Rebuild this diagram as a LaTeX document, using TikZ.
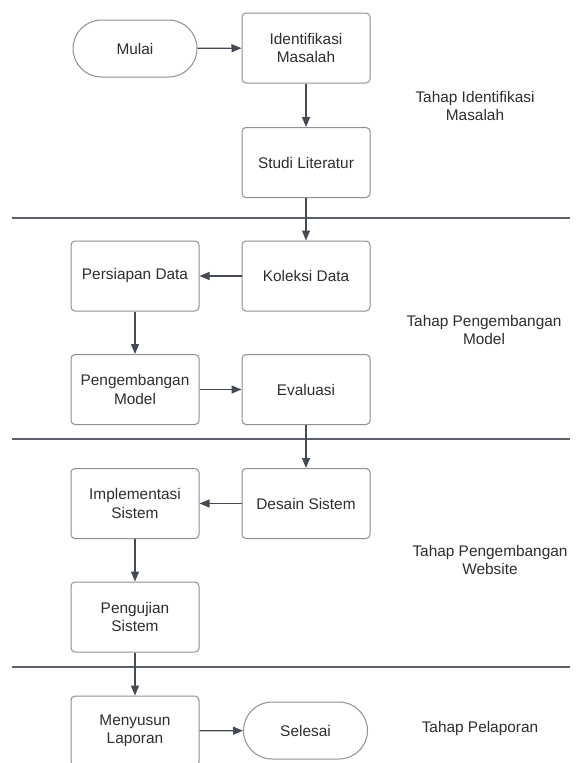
\documentclass[tikz,border=0pt]{standalone}
\usepackage{fontspec}
\setmainfont{Liberation Sans}
\usetikzlibrary{arrows.meta,shapes.misc}
\definecolor{boxline}{HTML}{8E9096}
\definecolor{arrowc}{HTML}{434A54}
\definecolor{sepline}{HTML}{5B6068}
\definecolor{txt}{HTML}{2E2E2E}
\tikzset{
  procbox/.style={draw=boxline, line width=1pt, rounded corners=4pt, minimum width=128pt, minimum height=70pt, align=center, text=txt, inner sep=2pt, font=\fontsize{15.4}{18.5}\selectfont},
  termbox/.style={draw=boxline, line width=1pt, rounded rectangle, minimum width=128pt, minimum height=57pt, align=center, text=txt, inner sep=2pt, font=\fontsize{15.4}{18.5}\selectfont},
  flow/.style={draw=arrowc, line width=1.2pt, -{Triangle[length=10pt,width=8pt]}},
  sep/.style={draw=sepline, line width=1.8pt},
  phase/.style={align=center, text=txt, font=\fontsize{15.4}{18.5}\selectfont},
}
\begin{document}
\begin{tikzpicture}[x=1pt,y=-1pt]
\clip (0,0) rectangle (576,763);
\fill[white] (0,0) rectangle (576,763);
% separators
\coordinate (s1a) at (12,218); \coordinate (s1b) at (570,218);
\coordinate (s2a) at (12,439); \coordinate (s2b) at (570,439);
\coordinate (s3a) at (12,667); \coordinate (s3b) at (570,667);
\draw[sep] (s1a) -- (s1b);
\draw[sep] (s2a) -- (s2b);
\draw[sep] (s3a) -- (s3b);
% nodes
\node[termbox] (mulai) at (135,48.5) {Mulai};
\node[procbox] (ident) at (306,48) {Identifikasi\\Masalah};
\node[procbox] (studi) at (306,162.5) {Studi Literatur};
\node[procbox] (kol) at (306,276) {Koleksi Data};
\node[procbox] (pers) at (135,276) {Persiapan Data};
\node[procbox] (peng) at (135,389.5) {Pengembangan\\Model};
\node[procbox] (eval) at (306,389.5) {Evaluasi};
\node[procbox] (des) at (306,503.5) {Desain Sistem};
\node[procbox] (impl) at (135,503.5) {Implementasi\\Sistem};
\node[procbox] (uji) at (135,617) {Pengujian\\Sistem};
\node[procbox] (lap) at (135,731) {Menyusun\\Laporan};
\node[termbox] (sel) at (305.5,730.5) {Selesai};
% phase labels
\node[phase] (p1) at (475,106) {Tahap Identifikasi\\Masalah};
\node[phase] (p2) at (484,330) {Tahap Pengembangan\\Model};
\node[phase] (p3) at (490,560) {Tahap Pengembangan\\Website};
\node[phase] (p4) at (480,729) {Tahap Pelaporan};
% connectors
\draw[flow] (mulai) -- (ident);
\draw[flow] (ident) -- (studi);
\draw[flow] (studi) -- (kol);
\draw[flow] (kol) -- (pers);
\draw[flow] (pers) -- (peng);
\draw[flow] (peng) -- (eval);
\draw[flow] (eval) -- (des);
\draw[flow] (des) -- (impl);
\draw[flow] (impl) -- (uji);
\draw[flow] (uji) -- (lap);
\draw[flow] (lap) -- (sel);
\end{tikzpicture}
\end{document}
